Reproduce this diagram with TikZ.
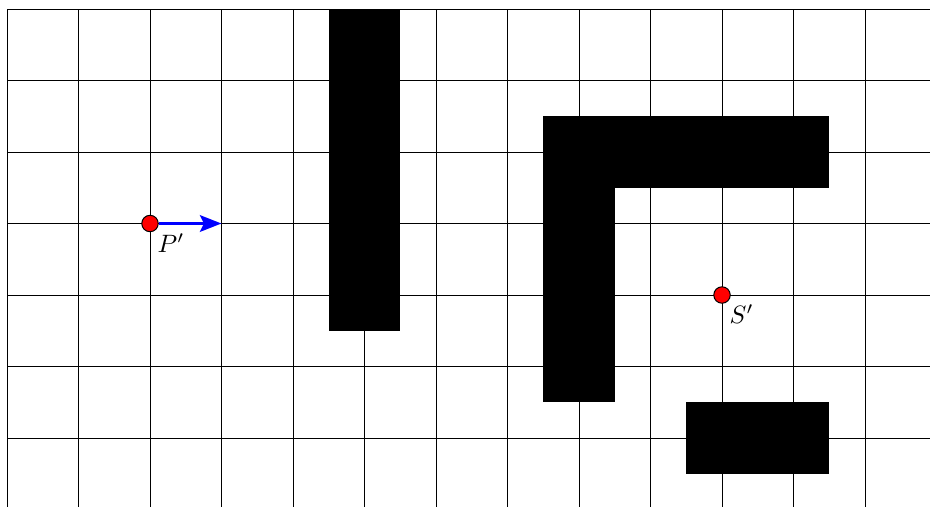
\documentclass[tikz,border=0pt]{standalone}
\usetikzlibrary{arrows.meta}
\begin{document}
\begin{tikzpicture}[
  gridline/.style={line width=0.4pt, black},
  obstacle/.style={fill=black, draw=none},
  pt/.style={circle, fill=red, draw=black, line width=0.4pt, inner sep=0pt, minimum size=0.23cm},
  lab/.style={anchor=north west, inner sep=0pt, font=\normalsize}
]
\useasboundingbox (-0.098,0.049) rectangle (12.909,7.126);
\clip (-0.098,0.049) rectangle (12.909,7.126);
\draw[gridline] (0,0) grid (13,7);
% obstacles
\fill[obstacle] (4.5,2.5) rectangle (5.5,7);
\fill[obstacle] (7.5,4.5) rectangle (11.5,5.5);
\fill[obstacle] (7.5,1.5) rectangle (8.5,4.5);
\fill[obstacle] (9.5,0.5) rectangle (11.5,1.5);
% points
\coordinate (Pend) at (3,4);
\node[pt] (P) at (2,4) {};
\node[pt] (S) at (10,3) {};
\draw[blue, line width=1.5pt, -{Stealth[length=8.5pt,width=6.5pt,inset=1.5pt]}] (P) -- (Pend);
\node[lab] (Plab) at (2.1,3.87) {$P'$};
\node[lab] (Slab) at (10.1,2.87) {$S'$};
\end{tikzpicture}
\end{document}
